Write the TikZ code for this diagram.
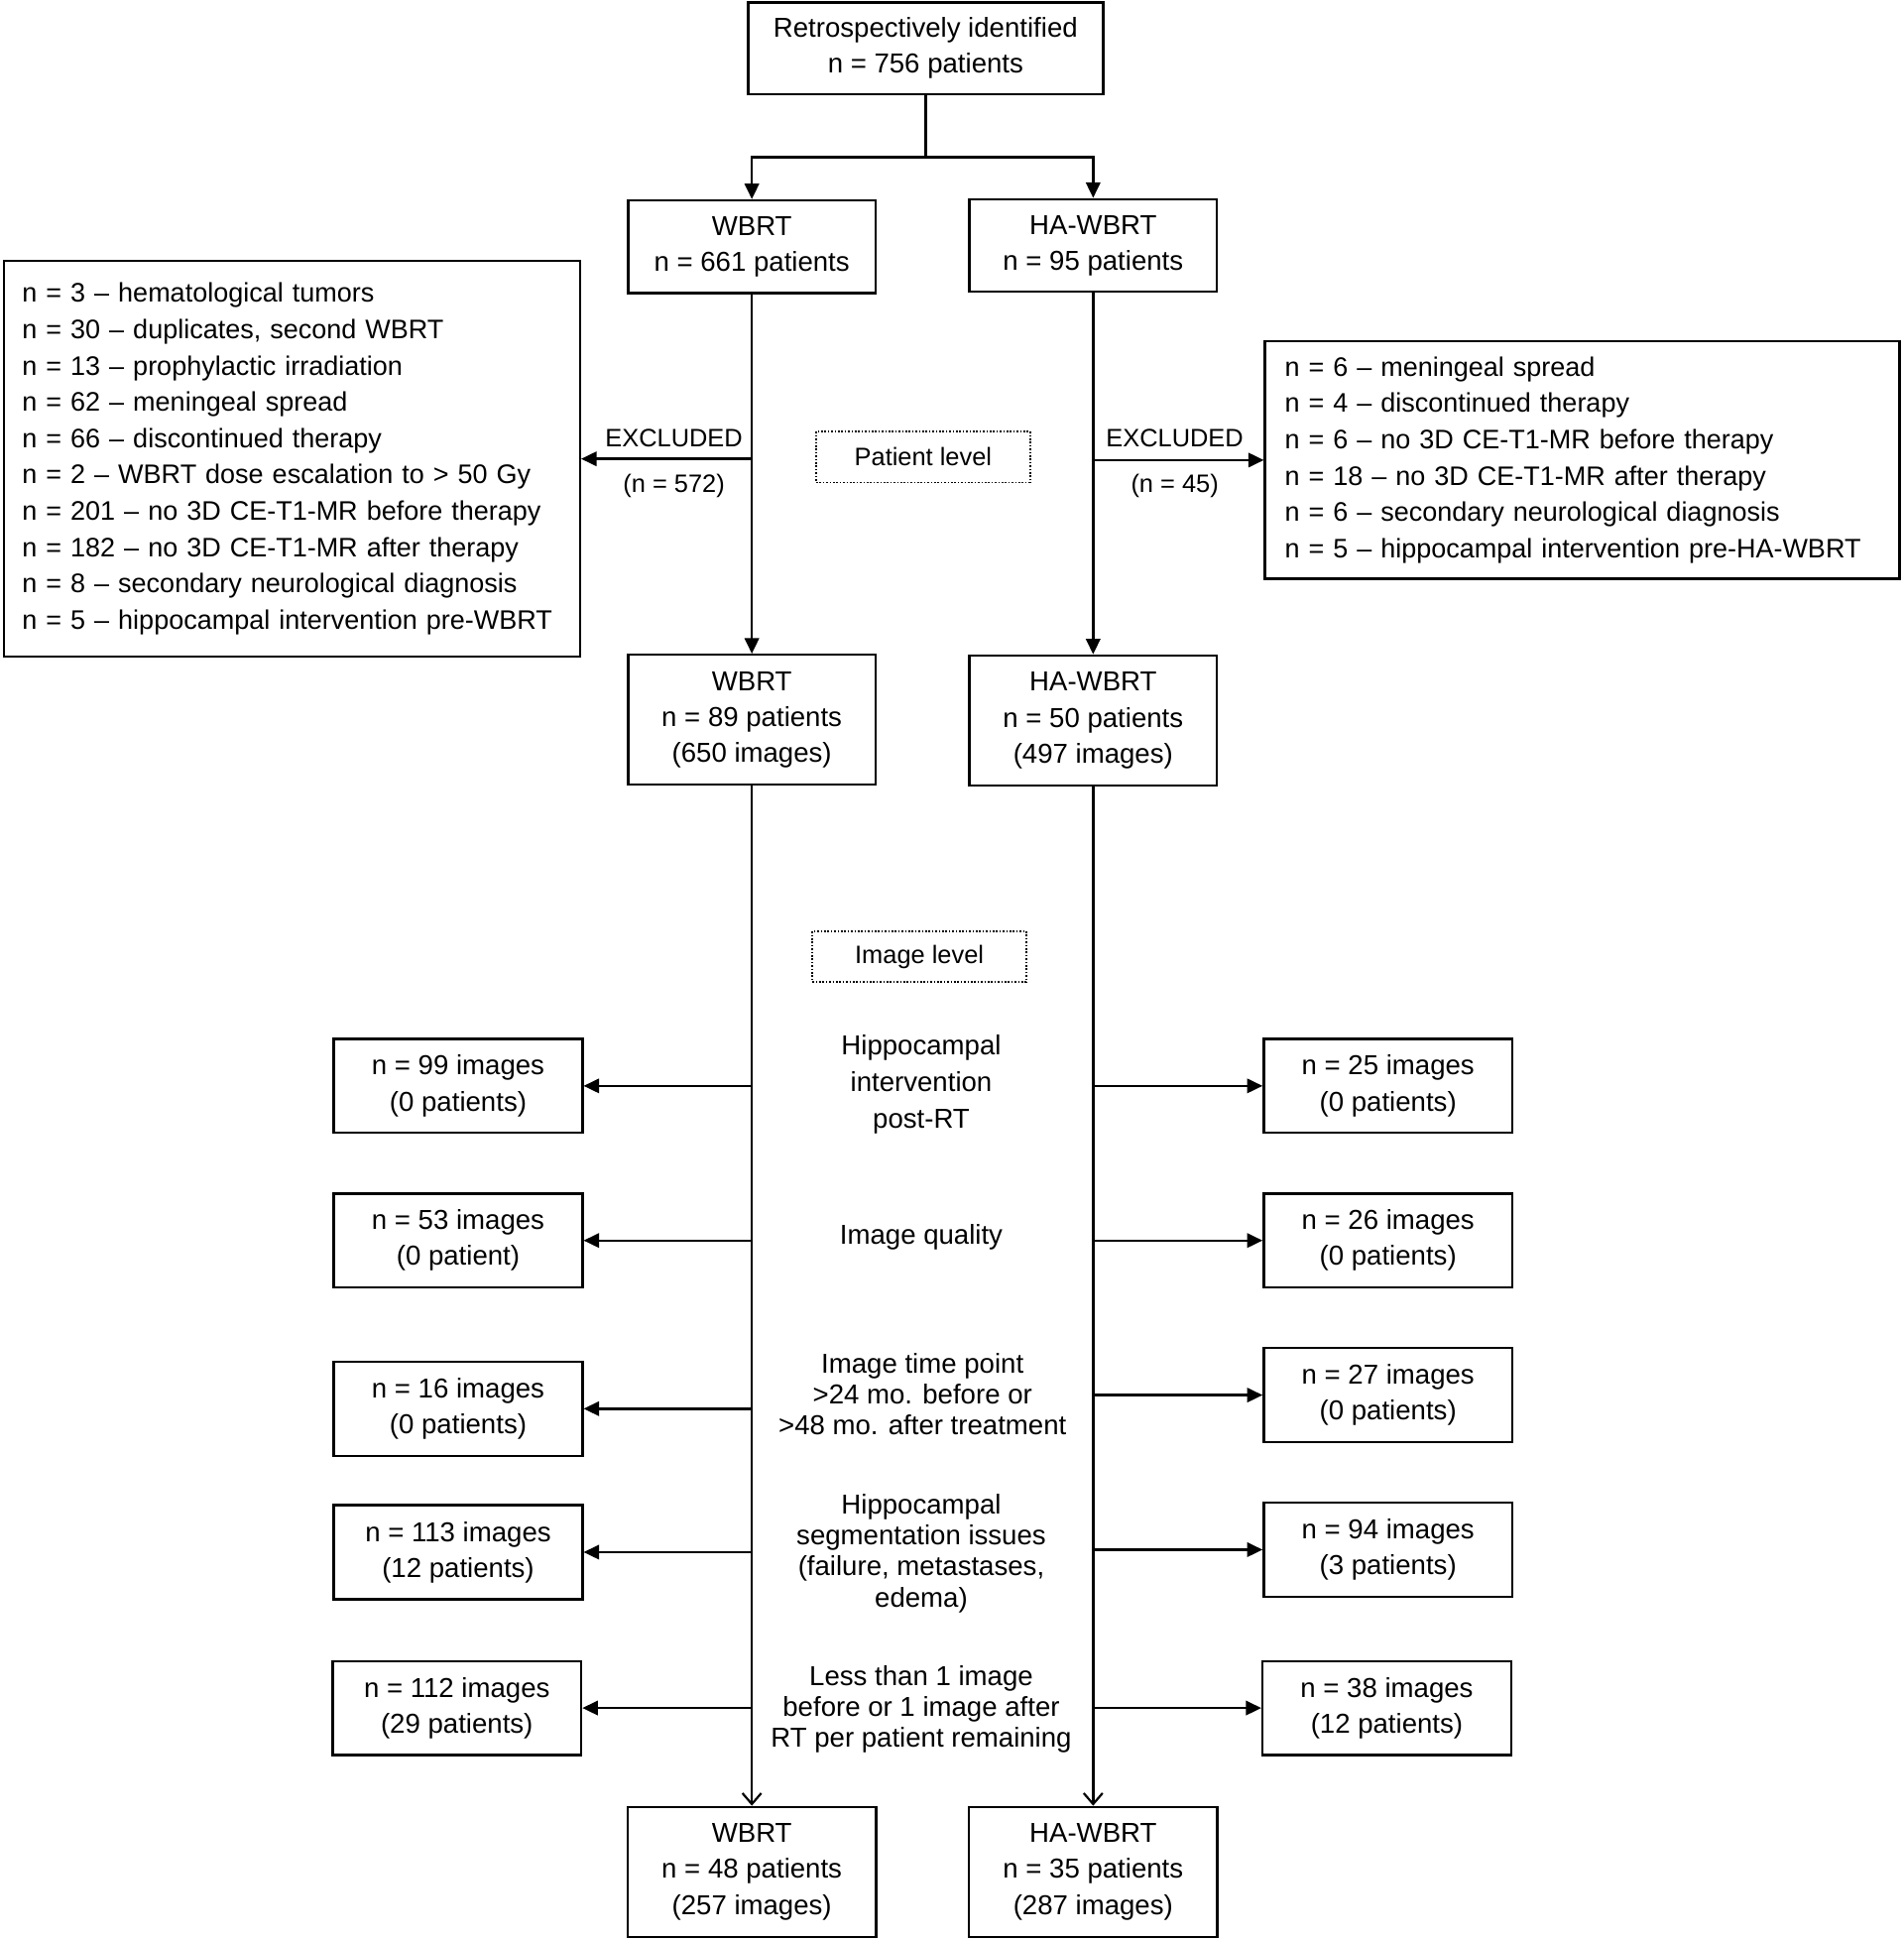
\documentclass[tikz,border=0pt]{standalone}
\usepackage{fontspec}
\setmainfont{Liberation Sans}
\usetikzlibrary{arrows.meta}
\begin{document}
\begin{tikzpicture}[x=0.6235pt,y=-0.6235pt,
  line width=1.2pt,
  bx/.style 2 args={draw, rectangle, inner sep=0pt, minimum width=#1*0.6235pt, minimum height=#2*0.6235pt, align=center, font=\fontsize{13.8}{18.1}\selectfont},
  arr/.style={-{Triangle[length=7.8pt,width=7.2pt]}},
  oarr/.style={-{Straight Barb[length=5.5pt,width=9.5pt,line width=1.1pt]}},
  dotbox/.style={draw, line width=0.8pt, dash pattern=on 0.8pt off 0.9pt, inner sep=0pt, minimum width=173*0.6235pt, minimum height=41*0.6235pt, font=\fontsize{12.7}{15}\selectfont},
  small/.style={font=\fontsize{12.7}{15}\selectfont, inner sep=0pt},
  mid/.style={align=center, font=\fontsize{13.8}{15.6}\selectfont, inner sep=0pt},
  listfont/.style={font=\fontsize{13.5}{18.3}\selectfont}
]
\useasboundingbox (0,0) rectangle (1539,1568.6);

% patient level
\node[bx={287}{74}] (top) at (748.5,39) {Retrospectively identified\\n = 756 patients};
\node[bx={200}{75}] (w1) at (608,199.5) {WBRT\\n = 661 patients};
\node[bx={200}{75}] (h1) at (884,198.5) {HA-WBRT\\n = 95 patients};

\node[bx={466}{320}, align=left, text width=271.85pt, listfont] (exL) at (236,371) {%
n = 3 -- hematological tumors\\
n = 30 -- duplicates, second WBRT\\
n = 13 -- prophylactic irradiation\\
n = 62 -- meningeal spread\\
n = 66 -- discontinued therapy\\
n = 2 -- WBRT dose escalation to > 50 Gy\\
n = 201 -- no 3D CE-T1-MR before therapy\\
n = 182 -- no 3D CE-T1-MR after therapy\\
n = 8 -- secondary neurological diagnosis\\
n = 5 -- hippocampal intervention pre-WBRT};

\node[bx={513}{192}, align=left, text width=299.9pt, listfont] (exR) at (1279.5,372) {%
n = 6 -- meningeal spread\\
n = 4 -- discontinued therapy\\
n = 6 -- no 3D CE-T1-MR before therapy\\
n = 18 -- no 3D CE-T1-MR after therapy\\
n = 6 -- secondary neurological diagnosis\\
n = 5 -- hippocampal intervention pre-HA-WBRT};

\node[small] (exlabL) at (545,354) {EXCLUDED};
\node[small] (exnL) at (545,393) {(n = 572)};
\node[small] (exlabR) at (950,354) {EXCLUDED};
\node[small] (exnR) at (950,393) {(n = 45)};
\node[dotbox] (plev) at (746.5,369.5) {Patient level};

\node[bx={200}{105}] (w2) at (608,582) {WBRT\\n = 89 patients\\(650 images)};
\node[bx={200}{105}] (h2) at (884,582.5) {HA-WBRT\\n = 50 patients\\(497 images)};

% image level
\node[dotbox] (ilev) at (743.5,773.5) {Image level};

\node[bx={201}{76}] (L1) at (370.5,878) {n = 99 images\\(0 patients)};
\node[bx={201}{76}] (L2) at (370.5,1003) {n = 53 images\\(0 patient)};
\node[bx={201}{76}] (L3) at (370.5,1139) {n = 16 images\\(0 patients)};
\node[bx={201}{76}] (L4) at (370.5,1255) {n = 113 images\\(12 patients)};
\node[bx={201}{76}] (L5) at (369.5,1381) {n = 112 images\\(29 patients)};

\node[bx={201}{76}] (R1) at (1122.5,878) {n = 25 images\\(0 patients)};
\node[bx={201}{76}] (R2) at (1122.5,1003) {n = 26 images\\(0 patients)};
\node[bx={201}{76}] (R3) at (1122.5,1128) {n = 27 images\\(0 patients)};
\node[bx={201}{76}] (R4) at (1122.5,1253) {n = 94 images\\(3 patients)};
\node[bx={201}{76}] (R5) at (1121.5,1381) {n = 38 images\\(12 patients)};

\node[mid, font=\fontsize{13.8}{18.4}\selectfont] (c1) at (745,877) {Hippocampal\\intervention\\post-RT};
\node[mid] (c2) at (745,1000) {Image quality};
\node[mid] (c3) at (746,1127) {Image time point\\>24 mo. before or\\>48 mo. after treatment};
\node[mid] (c4) at (745,1256) {Hippocampal\\segmentation issues\\(failure, metastases,\\edema)};
\node[mid] (c5) at (745,1382) {Less than 1 image\\before or 1 image after\\RT per patient remaining};

\node[bx={201}{105}] (w3) at (608,1513.5) {WBRT\\n = 48 patients\\(257 images)};
\node[bx={201}{105}] (h3) at (884,1513.5) {HA-WBRT\\n = 35 patients\\(287 images)};

% connectors
\coordinate (split) at (748.5,127);
\draw (top.south) -- (split);
\draw[arr] (split) -| (w1.north);
\draw[arr] (split) -| (h1.north);

\draw[arr] (w1.south) -- (w2.north);
\draw[arr] (h1.south) -- (h2.north);
\draw[arr] (exL.east -| w1) -- (exL.east);
\draw[arr] (exR.west -| h1) -- (exR.west);

\draw[oarr] (w2.south) -- (w3.north);
\draw[oarr] (h2.south) -- (h3.north);

\foreach \i in {1,...,5}{
  \draw[arr] (L\i.east -| w2) -- (L\i.east);
  \draw[arr] (R\i.west -| h2) -- (R\i.west);
}
\end{tikzpicture}
\end{document}
